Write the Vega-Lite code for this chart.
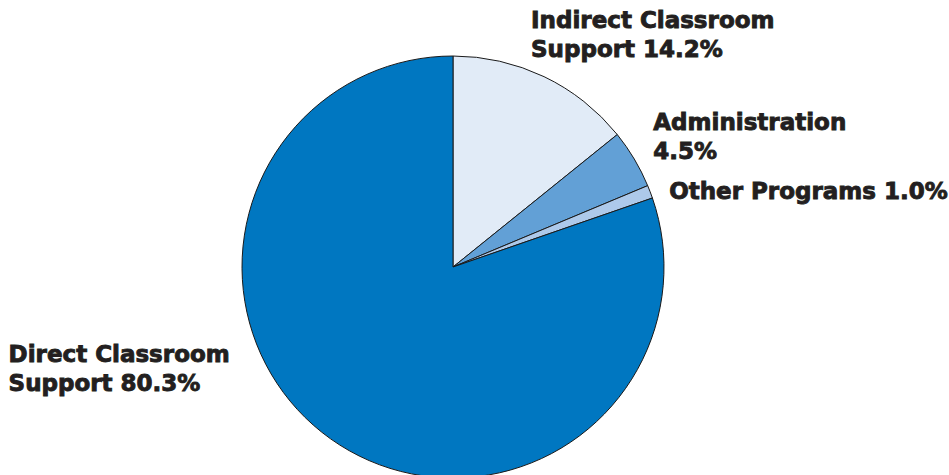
{
  "$schema": "https://vega.github.io/schema/vega-lite/v6.json",
  "width": 906,
  "height": 422,
  "autosize": {"type": "none"},
  "padding": {"left": 0, "top": 56, "right": 43, "bottom": 0},
  "background": "white",
  "config": {"view": {"stroke": null}, "text": {"font": "DejaVu Sans", "fontWeight": "bold", "fontSize": 23, "lineBreak": "\n", "lineHeight": 29, "color": "#231F20", "stroke": "#231F20", "strokeWidth": 0.9, "align": "left", "baseline": "alphabetic"}},
  "data": {
    "values": [
      {"category": "Indirect Classroom Support", "pct": 14.2, "idx": 1, "label": "Indirect Classroom\nSupport 14.2%"},
      {"category": "Administration", "pct": 4.5, "idx": 2, "label": "Administration\n4.5%"},
      {"category": "Other Programs", "pct": 1.0, "idx": 3, "label": "Other Programs 1.0%"},
      {"category": "Direct Classroom Support", "pct": 80.3, "idx": 4, "label": "Direct Classroom\nSupport 80.3%"}
    ]
  },
  "encoding": {
    "theta": {"field": "pct", "type": "quantitative", "stack": true},
    "order": {"field": "idx", "type": "quantitative"}
  },
  "layer": [
    {
      "mark": {"type": "arc", "outerRadius": 211, "stroke": "#1a1a1a", "strokeWidth": 1},
      "encoding": {
        "color": {
          "field": "category",
          "type": "nominal",
          "scale": {
            "domain": ["Indirect Classroom Support", "Administration", "Other Programs", "Direct Classroom Support"],
            "range": ["#E1EBF7", "#62A0D6", "#ADC9EA", "#0077C1"]
          },
          "legend": null
        }
      }
    },
    {
      "mark": {"type": "text", "radius": 211, "dx": -13, "dy": -49},
      "encoding": {"text": {"condition": {"test": "datum.category === 'Indirect Classroom Support'", "field": "label"}, "value": ""}}
    },
    {
      "mark": {"type": "text", "radius": 211, "dx": 19, "dy": -29},
      "encoding": {"text": {"condition": {"test": "datum.category === 'Administration'", "field": "label"}, "value": ""}}
    },
    {
      "mark": {"type": "text", "radius": 211, "dx": 19, "dy": 7},
      "encoding": {"text": {"condition": {"test": "datum.category === 'Other Programs'", "field": "label"}, "value": ""}}
    },
    {
      "mark": {"type": "text", "radius": 211, "dx": -322, "dy": -77},
      "encoding": {"text": {"condition": {"test": "datum.category === 'Direct Classroom Support'", "field": "label"}, "value": ""}}
    }
  ]
}
